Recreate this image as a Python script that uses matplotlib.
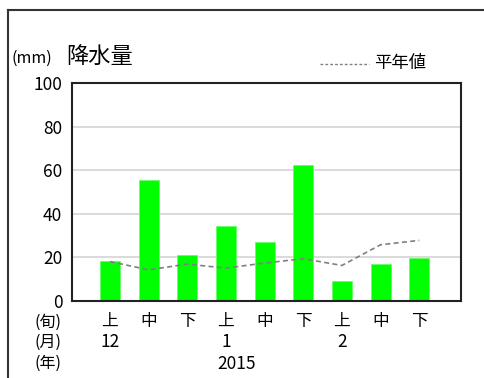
import matplotlib.pyplot as plt
from matplotlib.lines import Line2D

plt.rcParams['font.family'] = ['Noto Sans CJK JP', 'DejaVu Sans']

# 旬ごとの降水量 (mm) と平年値
junn = ['上', '中', '下', '上', '中', '下', '上', '中', '下']
months = ['12', '', '', '1', '', '', '2', '', '']
precip = [18.4, 55.4, 21.0, 34.4, 26.9, 62.2, 9.2, 16.9, 19.5]
normal = [18.1, 14.3, 16.9, 15.1, 17.4, 19.4, 16.3, 25.8, 27.8]
year = '2015'

W, H = 485, 378
fig = plt.figure(figsize=(W / 100, H / 100), dpi=100)
ax = fig.add_axes([72 / W, 1 - 301 / H, 389 / W, 218 / H])

x = list(range(len(precip)))
ax.bar(x, precip, width=0.52, color='#00ff00', edgecolor='#66ff66', linewidth=0.6, zorder=2)
ax.plot(x, normal, color='#808080', linestyle=(0, (3, 2)), linewidth=1.2, zorder=3)

ax.set_xlim(-0.98, 9.08)
ax.set_ylim(0, 100)
ax.set_yticks([0, 20, 40, 60, 80, 100])
ax.tick_params(axis='y', length=0, labelsize=12.5, pad=7)
ax.tick_params(axis='x', length=0, labelbottom=False)
ax.yaxis.grid(True, color='#d4d4d4', linewidth=1.2, zorder=0)
ax.set_axisbelow(True)
for s in ax.spines.values():
    s.set_linewidth(1.5)
    s.set_color('#222222')

# 下部の旬・月・年ラベル
tr = ax.get_xaxis_transform()
for i, (j, m) in enumerate(zip(junn, months)):
    ax.text(i, -0.095, j, transform=tr, ha='center', va='center', fontsize=12)
    if m:
        ax.text(i, -0.19, m, transform=tr, ha='center', va='center', fontsize=12.5)
ax.text(3.28, -0.29, year, transform=tr, ha='center', va='center', fontsize=12.5)

for yy, lab in [(322, '(旬)'), (342, '(月)'), (363, '(年)')]:
    fig.text(48 / W, 1 - yy / H, lab, ha='center', va='center', fontsize=11.5)

# タイトルと凡例
fig.text(12 / W, 1 - 58 / H, '(mm)', ha='left', va='center', fontsize=11.5)
fig.text(66 / W, 1 - 56 / H, '降水量', ha='left', va='center', fontsize=16)
fig.add_artist(Line2D([320 / W, 369 / W], [1 - 64 / H, 1 - 64 / H],
                      color='#808080', linestyle=(0, (2, 1.5)), linewidth=1.0))
fig.text(374 / W, 1 - 63 / H, '平年値', ha='left', va='center', fontsize=12.5)

# 外枠
fig.add_artist(Line2D([8 / W, 1], [1 - 10 / H, 1 - 10 / H], color='#333333', linewidth=1.5))
fig.add_artist(Line2D([8 / W, 8 / W], [0, 1 - 10 / H], color='#333333', linewidth=1.5))

fig.savefig('out.png', dpi=100)
